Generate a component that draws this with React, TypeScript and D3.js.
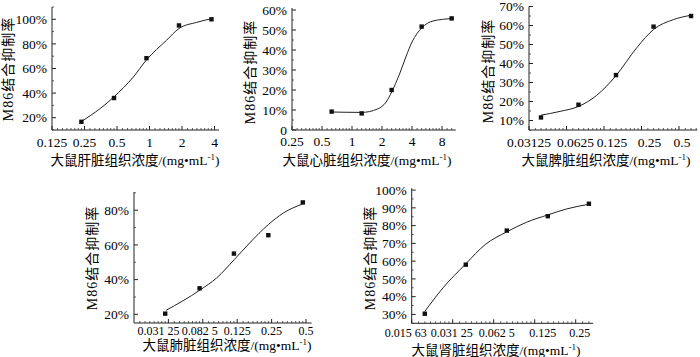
import React from 'react';
import * as d3 from 'd3';

// ---------- data ----------
const liverX = [0.234, 0.469, 0.9375, 1.875, 3.75];
const liverY = [0.167, 0.36, 0.684, 0.95, 1.0];
const liverFitX = [0.234, 0.35, 0.469, 0.707, 0.9375, 1.44, 1.875, 2.73, 3.75];
const liverFitY = [0.17, 0.275, 0.37, 0.53, 0.67, 0.83, 0.925, 0.975, 1.005];

const heartX = [0.625, 1.25, 2.5, 5, 10];
const heartY = [0.092, 0.083, 0.2, 0.517, 0.558];
const heartFitX = [0.625, 1.25, 1.8, 2.2, 2.5, 3.0, 3.5, 4.0, 5.0, 6.5, 10];
const heartFitY = [0.09, 0.088, 0.105, 0.14, 0.19, 0.28, 0.37, 0.44, 0.51, 0.545, 0.557];

const spleenX = [0.039, 0.078, 0.156, 0.3125, 0.625];
const spleenY = [0.116, 0.183, 0.339, 0.594, 0.65];
const spleenFitX = [0.039, 0.0555, 0.078, 0.109, 0.156, 0.229, 0.3125, 0.451, 0.625];
const spleenFitY = [0.128, 0.148, 0.174, 0.232, 0.336, 0.483, 0.579, 0.631, 0.654];

const lungX = [0.0293, 0.0586, 0.117, 0.234, 0.469];
const lungY = [0.204, 0.35, 0.55, 0.656, 0.845];
const lungFitX = [0.0298, 0.0591, 0.0827, 0.118, 0.161, 0.234, 0.317, 0.468];
const lungFitY = [0.223, 0.34, 0.41, 0.516, 0.612, 0.717, 0.784, 0.836];

const kidneyX = [0.0195, 0.039, 0.078, 0.156, 0.3125];
const kidneyY = [0.304, 0.58, 0.772, 0.853, 0.923];
const kidneyFitX = [0.0195, 0.0267, 0.039, 0.0541, 0.078, 0.109, 0.156, 0.215, 0.3125];
const kidneyFitY = [0.317, 0.452, 0.585, 0.693, 0.765, 0.819, 0.86, 0.894, 0.92];

const liverXTicks = [0.125, 0.25, 0.5, 1, 2, 4];
const liverXLabels = ['0.125', '0.25', '0.5', '1', '2', '4'];
const liverYTicks = [0.2, 0.4, 0.6, 0.8, 1.0];
const liverYLabels = ['20%', '40%', '60%', '80%', '100%'];

const heartXTicks = [0.25, 0.5, 1, 2, 4, 8];
const heartXLabels = ['0.25', '0.5', '1', '2', '4', '8'];
const heartYTicks = [0, 0.1, 0.2, 0.3, 0.4, 0.5, 0.6];
const heartYLabels = ['0', '10%', '20%', '30%', '40%', '50%', '60%'];

const spleenXTicks = [0.03125, 0.0625, 0.125, 0.25, 0.5];
const spleenXLabels = ['0.03125', '0.0625', '0.125', '0.25', '0.5'];
const spleenYTicks = [0.1, 0.2, 0.3, 0.4, 0.5, 0.6, 0.7];
const spleenYLabels = ['10%', '20%', '30%', '40%', '50%', '60%', '70%'];

const lungXTicks = [0.03125, 0.0625, 0.125, 0.25, 0.5];
const lungXLabels = ['0.031 25', '0.082 5', '0.125', '0.25', '0.5'];
const lungYTicks = [0.2, 0.4, 0.6, 0.8];
const lungYLabels = ['20%', '40%', '60%', '80%'];

const kidneyXTicks = [0.015625, 0.03125, 0.0625, 0.125, 0.25];
const kidneyXLabels = ['0.015 63', '0.031 25', '0.062 5', '0.125', '0.25'];
const kidneyYTicks = [0.3, 0.4, 0.5, 0.6, 0.7, 0.8, 0.9, 1.0];
const kidneyYLabels = ['30%', '40%', '50%', '60%', '70%', '80%', '90%', '100%'];

const yTitleText = 'M86结合抑制率';
const organs = ['大鼠肝脏', '大鼠心脏', '大鼠脾脏', '大鼠肺脏', '大鼠肾脏'];

// ---------- layout ----------
const FONT = "'Liberation Serif', 'Times New Roman', 'Noto Sans CJK SC', serif";

type Cfg = {
  left: number; top: number; bottom: number; ppd: number;
  xDomain: [number, number]; yDomain: [number, number]; yMinorStep: number;
  xTicks: number[]; xLabels: string[]; yTicks: number[]; yLabels: string[];
  px: number[]; py: number[]; fx: number[]; fy: number[];
  organ: string; xTitle: [number, number]; yTitle: [number, number]; labelGap: number;
  xLabelSize: number; xLabelDx: number[];
};

const panels: Cfg[] = [
  {
    left: 52, top: 7, bottom: 130, ppd: 32.5, xDomain: [0.125, 4.4], yDomain: [0.1, 1.1], yMinorStep: 0.1,
    xTicks: liverXTicks, xLabels: liverXLabels, yTicks: liverYTicks, yLabels: liverYLabels,
    px: liverX, py: liverY, fx: liverFitX, fy: liverFitY, organ: organs[0],
    xTitle: [135, 165], yTitle: [13, 69], labelGap: 17, xLabelSize: 13.5, xLabelDx: [0, 0, 0, 0, 0, 0],
  },
  {
    left: 292, top: 8, bottom: 130, ppd: 30, xDomain: [0.25, 11], yDomain: [0, 0.61], yMinorStep: 0.05,
    xTicks: heartXTicks, xLabels: heartXLabels, yTicks: heartYTicks, yLabels: heartYLabels,
    px: heartX, py: heartY, fx: heartFitX, fy: heartFitY, organ: organs[1],
    xTitle: [367, 165], yTitle: [255, 72], labelGap: 16, xLabelSize: 13.5, xLabelDx: [0, 0, 0, 0, 0, 0],
  },
  {
    left: 529, top: 6.5, bottom: 130, ppd: 37.5, xDomain: [0.03125, 0.7], yDomain: [0.05, 0.7], yMinorStep: 0.05,
    xTicks: spleenXTicks, xLabels: spleenXLabels, yTicks: spleenYTicks, yLabels: spleenYLabels,
    px: spleenX, py: spleenY, fx: spleenFitX, fy: spleenFitY, organ: organs[2],
    xTitle: [606, 165], yTitle: [493, 71], labelGap: 17, xLabelSize: 13.5, xLabelDx: [0, 9, 8, 8, 3],
  },
  {
    left: 134, top: 192, bottom: 323, ppd: 34.4, xDomain: [0.015625, 0.56], yDomain: [0.15, 0.905], yMinorStep: 0.1,
    xTicks: lungXTicks, xLabels: lungXLabels, yTicks: lungYTicks, yLabels: lungYLabels,
    px: lungX, py: lungY, fx: lungFitX, fy: lungFitY, organ: organs[3],
    xTitle: [227, 350], yTitle: [97, 258], labelGap: 11.5, xLabelSize: 12, xLabelDx: [-10, -3, 0, 0, 0],
  },
  {
    left: 411.7, top: 188.3, bottom: 323.3, ppd: 41, xDomain: [0.015625, 0.336], yDomain: [0.25, 1.01], yMinorStep: 0.05,
    xTicks: kidneyXTicks, xLabels: kidneyXLabels, yTicks: kidneyYTicks, yLabels: kidneyYLabels,
    px: kidneyX, py: kidneyY, fx: kidneyFitX, fy: kidneyFitY, organ: organs[4],
    xTitle: [496, 355], yTitle: [375, 258], labelGap: 13.5, xLabelSize: 12, xLabelDx: [-6, -1, 3, 8, 4],
  },
];

function Panel({ c }: { c: Cfg }) {
  const right = c.left + Math.log2(c.xDomain[1] / c.xDomain[0]) * c.ppd;
  const x = d3.scaleLog().base(2).domain(c.xDomain).range([c.left, right]);
  const y = d3.scaleLinear().domain(c.yDomain).range([c.bottom, c.top]);

  const minorX: number[] = [];
  for (let a = c.xDomain[0]; a < c.xDomain[1]; a *= 2) {
    for (let k = 1; k < 8; k++) {
      const t = a * (1 + k / 8);
      if (t < c.xDomain[1]) minorX.push(t);
    }
  }
  const minorY: number[] = [];
  const start = Math.ceil(c.yDomain[0] / c.yMinorStep - 1e-6);
  for (let i = start; i * c.yMinorStep <= c.yDomain[1] + 1e-6; i++) {
    const v = +(i * c.yMinorStep).toFixed(4);
    if (!c.yTicks.some((t) => Math.abs(t - v) < 1e-6)) minorY.push(v);
  }

  const line = d3
    .line<number>()
    .x((d) => x(d))
    .y((_, i) => y(c.fy[i]))
    .curve(d3.curveMonotoneX);

  const ms = 4.4;
  return (
    <g>
      <line x1={c.left} x2={right} y1={c.bottom} y2={c.bottom} stroke="#222" strokeWidth={1} />
      <line x1={c.left} x2={c.left} y1={c.bottom} y2={c.top} stroke="#222" strokeWidth={1} />
      {minorX.map((t, i) => (
        <line key={'mx' + i} x1={x(t)} x2={x(t)} y1={c.bottom} y2={c.bottom - 2} stroke="#333" strokeWidth={0.8} />
      ))}
      {c.xTicks.map((t, i) => (
        <g key={'xt' + i}>
          <line x1={x(t)} x2={x(t)} y1={c.bottom} y2={c.bottom - 4} stroke="#222" strokeWidth={1} />
          <text
            x={x(t) + c.xLabelDx[i]}
            y={c.bottom + c.labelGap}
            textAnchor="middle"
            fontSize={c.xLabelSize}
            fontFamily={FONT}
            fill="#000"
          >
            {c.xLabels[i]}
          </text>
        </g>
      ))}
      {minorY.map((t, i) => (
        <line key={'my' + i} x1={c.left} x2={c.left + 2} y1={y(t)} y2={y(t)} stroke="#333" strokeWidth={0.8} />
      ))}
      {c.yTicks.map((t, i) => (
        <g key={'yt' + i}>
          <line x1={c.left} x2={c.left + 4} y1={y(t)} y2={y(t)} stroke="#222" strokeWidth={1} />
          <text x={c.left - 5} y={y(t)} dy="0.35em" textAnchor="end" fontSize={13.5} fontFamily={FONT} fill="#000">
            {c.yLabels[i]}
          </text>
        </g>
      ))}
      <path d={line(c.fx) || ''} fill="none" stroke="#222" strokeWidth={1} />
      {c.px.map((v, i) => (
        <rect key={'p' + i} x={x(v) - ms / 2} y={y(c.py[i]) - ms / 2} width={ms} height={ms} fill="#111" />
      ))}
      <text x={c.xTitle[0]} y={c.xTitle[1]} textAnchor="middle" fontSize={13.5} fontFamily={FONT} fill="#000">
        {c.organ + '组织浓度/(mg•mL'}
        <tspan fontSize={9} dy={-5}>-1</tspan>
        <tspan dy={5}>)</tspan>
      </text>
      <text
        x={c.yTitle[0]}
        y={c.yTitle[1]}
        transform={`rotate(-90 ${c.yTitle[0]} ${c.yTitle[1]})`}
        textAnchor="middle"
        fontSize={14}
        fontFamily={FONT}
        fill="#000"
        letterSpacing={1}
      >
        {yTitleText}
      </text>
    </g>
  );
}

export default function App() {
  return (
    <svg width={700} height={357} style={{ position: 'absolute', left: 0, top: 0, background: '#fff' }}>
      <rect width={700} height={357} fill="#fff" />
      {panels.map((c, i) => (
        <Panel key={i} c={c} />
      ))}
    </svg>
  );
}
